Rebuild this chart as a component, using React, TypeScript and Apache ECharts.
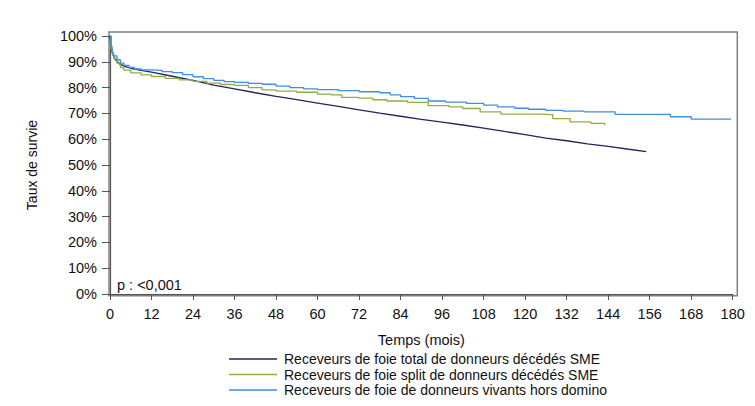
import * as echarts from "echarts"
import { useEffect, useRef } from "react"

// Kaplan-Meier survival after liver transplant, by graft type.
// as [months, survival %]; the curves are step functions so each point is a drop.
const totalSME: [number, number][] = [
  [0, 100], [0.3, 96], [0.7, 93.5], [1.2, 91.6], [2, 90.1], [3, 89], [4.5, 88.1], [6, 87.5],
  [9, 86.7], [12, 86], [18, 84.4], [24, 82.8], [30, 81], [36, 79.5], [42, 78], [48, 76.6],
  [54, 75.3], [60, 74], [66, 72.7], [72, 71.4], [78, 70.1], [84, 68.9], [90, 67.7], [96, 66.6],
  [102, 65.5], [108, 64.3], [114, 63], [120, 61.8], [126, 60.4], [132, 59.4], [138, 58.2],
  [144, 57.2], [150, 56.1], [155, 55.2],
]

const splitSME: [number, number][] = [
  [0, 100], [0.3, 95], [0.7, 92.5], [1.2, 91], [2, 89.5], [3, 87.8], [4, 86.8], [6, 85.7],
  [9, 84.9], [12, 84.3], [16, 83.6], [20, 83], [24, 82.4], [28, 81.7], [32, 81.2], [36, 80.9],
  [40, 80], [44, 79.1], [48, 78.6], [54, 78.2], [60, 77.5], [64, 77.2], [67, 76.2], [72, 75.9],
  [76, 75.3], [80, 74.8], [86, 74.3], [92, 73], [98, 72.5], [102, 71.9], [107, 70.6],
  [113, 69.7], [124, 69.5], [128, 68], [133, 66.7], [139, 66.1], [143, 65.4],
]

const vivants: [number, number][] = [
  [0, 100], [0.3, 96], [0.6, 93.5], [1, 92.3], [2, 90.8], [3, 89.5], [4, 88.6], [5.5, 87.8],
  [7, 87.2], [9, 86.9], [12, 86.7], [15, 86.2], [18, 85.8], [21, 85], [24, 84.2], [27, 83.5],
  [30, 82.8], [33, 82.3], [36, 82], [40, 81.6], [44, 81.3], [48, 80.6], [52, 80], [56, 79.5],
  [60, 79.2], [66, 78.8], [72, 78.4], [78, 78], [81, 77.2], [84, 76.5], [88, 75.8], [92, 74.8],
  [97, 74.4], [103, 73.9], [108, 73.2], [112, 72.5], [117, 72], [121, 71.6], [126, 71.2],
  [131, 70.9], [137, 70.6], [146, 69.6], [157, 69.6], [162, 68.7], [168, 67.8], [179.5, 67.8],
]

const seriesNames = [
  "Receveurs de foie total de donneurs décédés SME",
  "Receveurs de foie split de donneurs décédés SME",
  "Receveurs de foie de donneurs vivants hors domino",
]
const seriesColors = ["#24245e", "#8fae44", "#3d8ee6"]

const FONT = "'Liberation Sans', Arial, Helvetica, sans-serif"

export default function App() {
  const ref = useRef<HTMLDivElement>(null)

  useEffect(() => {
    if (!ref.current) return
    const chart = echarts.init(ref.current, undefined, { renderer: "svg" })

    const line = (i: number, data: [number, number][], step: false | "end") => ({
      name: seriesNames[i],
      type: "line",
      data,
      step,
      symbol: "none",
      lineStyle: { color: seriesColors[i], width: 1.3 },
      itemStyle: { color: seriesColors[i] },
    })

    chart.setOption({
      animation: false,
      textStyle: { fontFamily: FONT },
      grid: { left: 110, right: 22.3, top: 36, bottom: 112 },
      xAxis: {
        type: "value",
        min: 0,
        max: 180,
        interval: 12,
        offset: 2,
        name: "Temps (mois)",
        nameLocation: "middle",
        nameGap: 36,
        nameTextStyle: { color: "#111", fontSize: 14.5, fontFamily: FONT },
        axisLine: { lineStyle: { color: "#555", width: 1.2 } },
        axisTick: { length: 6, lineStyle: { color: "#555" } },
        axisLabel: { color: "#111", fontSize: 14.5, margin: 10, fontFamily: FONT },
        splitLine: { show: false },
      },
      yAxis: {
        type: "value",
        min: 0,
        max: 100,
        interval: 10,
        offset: 1,
        name: "Taux de survie",
        nameLocation: "middle",
        nameGap: 70,
        nameTextStyle: { color: "#111", fontSize: 14, fontFamily: FONT },
        axisLine: { show: true, lineStyle: { color: "#555", width: 1.2 } },
        axisTick: { show: true, length: 8, lineStyle: { color: "#555" } },
        axisLabel: { color: "#111", fontSize: 14.5, margin: 12, formatter: "{value}%", fontFamily: FONT },
        splitLine: { show: false },
      },
      legend: {
        orient: "vertical",
        left: 229,
        top: 351.5,
        padding: 0,
        height: 52,
        icon: "rect",
        itemWidth: 48,
        itemHeight: 1.6,
        itemGap: 0.5,
        textStyle: { color: "#111", fontSize: 14, lineHeight: 15, fontFamily: FONT, padding: [0, 0, 0, 2] },
        data: seriesNames,
      },
      graphic: [
        {
          type: "rect",
          silent: true,
          shape: { x: 109, y: 32, width: 628.3, height: 263.7 },
          style: { fill: "none", stroke: "#808080", lineWidth: 1.5 },
        },
        {
          type: "text",
          x: 117,
          y: 285,
          style: { text: "p : <0,001", fill: "#111", font: `14.5px ${FONT}`, verticalAlign: "middle" },
        },
      ],
      series: [line(0, totalSME, false), line(1, splitSME, "end"), line(2, vivants, "end")],
    })

    return () => chart.dispose()
  }, [])

  return <div ref={ref} style={{ position: "absolute", left: 0, top: 0, width: 755, height: 406 }} />
}
